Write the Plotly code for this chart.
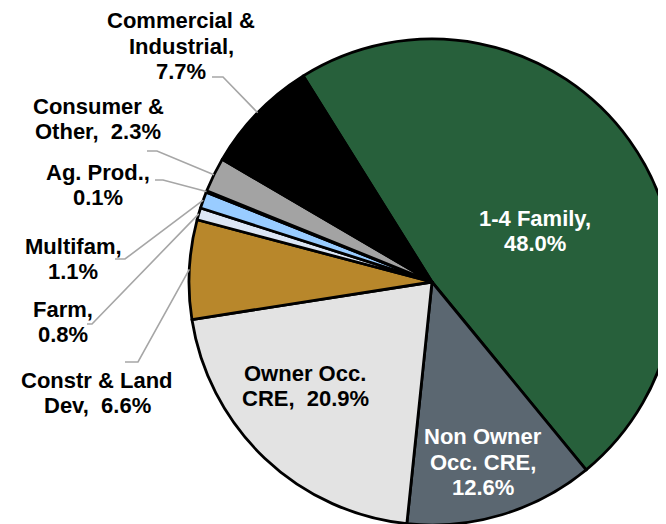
import math
import plotly.graph_objects as go

# ---- data ----
categories = ["1-4 Family", "Non Owner Occ. CRE", "Owner Occ. CRE", "Constr & Land Dev",
              "Farm", "Multifam", "Ag. Prod.", "Consumer & Other", "Commercial & Industrial"]
values = [48.0, 12.6, 20.9, 6.6, 0.8, 1.1, 0.1, 2.3, 7.7]
label_lines = [
    ["1-4 Family,", "48.0%"],
    ["Non Owner", "Occ. CRE,", "12.6%"],
    ["Owner Occ.", "CRE,\u00a0 20.9%"],
    ["Constr & Land", "Dev,\u00a0 6.6%"],
    ["Farm,", "0.8%"],
    ["Multifam,", "1.1%"],
    ["Ag. Prod.,", "0.1%"],
    ["Consumer &", "Other,\u00a0 2.3%"],
    ["Commercial &", "Industrial,", "7.7%"],
]
colors = ["#27603B", "#5B6771", "#E3E3E3", "#B8872B", "#DCE6F5",
          "#99CCFF", "#7F7F7F", "#A3A3A3", "#000000"]
text_colors = ["#FFFFFF", "#FFFFFF", "#000000", "#000000", "#000000",
               "#000000", "#000000", "#000000", "#000000"]

# ---- layout geometry (screen pixels; page has an 8px body margin) ----
OFF = 8
W, H = 690, 540
CX, CY, R = 432, 282, 243
ROT = -32.0
LINE_H = 25.8

# label block centres and leader-line start/elbow; None = inside label
label_pos = [(535, 231), (483, 462), (305, 386), (97, 393), (63, 322),
             (73, 259), (98, 185), (98, 119), (181, 46)]
leader = [None, None, None,
          ((125, 362), (138, 362)),
          ((87, 324), (92, 324)),
          ((115, 259), (125, 259)),
          ((155, 180), (163, 180)),
          ((147, 151), (157, 151)),
          ((212, 77), (223, 77))]


def px(x):
    return (x - OFF) / W


def py(y):
    return 1 - (y - OFF) / H


fig = go.Figure(go.Pie(
    labels=categories, values=values, sort=False, direction="clockwise",
    rotation=ROT, textinfo="none", hoverinfo="label+percent",
    marker=dict(colors=colors, line=dict(color="#000000", width=2.8)),
    domain=dict(x=[px(CX - R), px(CX + R)], y=[py(CY + R), py(CY - R)]),
    showlegend=False,
))

total = sum(values)
cum = 0.0
annotations = []
shapes = []
for i, v in enumerate(values):
    mid = ROT + (cum + v / 2) / total * 360.0
    cum += v
    lx, ly = label_pos[i]
    lines = label_lines[i]
    n = len(lines)
    for k, t in enumerate(lines):
        yk = ly + (k - (n - 1) / 2) * LINE_H
        annotations.append(dict(
            x=px(lx), y=py(yk), xref="paper", yref="paper", text=t, showarrow=False,
            xanchor="center", yanchor="middle",
            font=dict(family="Liberation Sans, Arial, sans-serif", size=22,
                      color=text_colors[i], weight="bold"),
        ))
    if leader[i] is not None:
        (x0, y0), (x1, y1) = leader[i]
        a = math.radians(mid)
        ex = CX + R * math.sin(a)
        ey = CY - R * math.cos(a)
        shapes.append(dict(
            type="path", xref="paper", yref="paper",
            path=f"M {px(x0)},{py(y0)} L {px(x1)},{py(y1)} L {px(ex)},{py(ey)}",
            line=dict(color="#A6A6A6", width=1.6),
        ))

fig.update_layout(
    width=W, height=H, margin=dict(l=0, r=0, t=0, b=0),
    paper_bgcolor="#FFFFFF", plot_bgcolor="#FFFFFF",
    annotations=annotations, shapes=shapes,
)

fig.write_html("out.html")
